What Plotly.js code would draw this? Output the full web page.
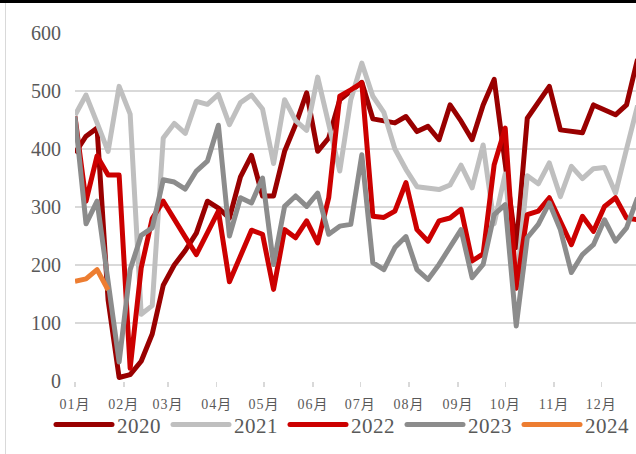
<!DOCTYPE html>
<html><head><meta charset="utf-8">
<script src="https://cdn.plot.ly/plotly-3.0.1.min.js"></script>
<style>
html,body{margin:0;padding:0;background:#fff;}
#wrap{position:relative;width:636px;height:454px;overflow:hidden;}
#chart{position:absolute;left:0;top:0;width:636px;height:454px;}
#topbar{position:absolute;left:0;top:0;width:636px;height:3px;background:#000;z-index:5;}
#leftrule{position:absolute;left:5px;top:3px;width:1px;height:451px;background:#d9d9d9;z-index:5;}
.xtick text{letter-spacing:1px;}
.legendtext{letter-spacing:0.5px;}
.legendlines path{stroke-linecap:round;}
.scatterlayer .js-line{stroke-linejoin:round;}
</style></head>
<body><div id="wrap"><div id="chart"></div><div id="topbar"></div><div id="leftrule"></div></div>
<script>
// day-of-year offset of each weekly observation
const weekDays = [0,7,14,21,28,35,42,49,56,63,70,77,84,91,98,105,112,119,126,133,140,147,154,161,168,175,182,189,196,203,210,217,224,231,238,245,252,259,266,273,280,287,294,301,308,315,322,329,336,343,350,357];
const monthStartDays = [0,31,59,90,120,151,181,212,243,273,304,334];
const monthLabels = ['01月','02月','03月','04月','05月','06月','07月','08月','09月','10月','11月','12月'];
const yTicks = [0,100,200,300,400,500,600];

const seriesNames = ['2020','2021','2022','2023','2024'];
const values2020 = [393,422,436,140,6,11,34,81,165,200,225,255,310,298,281,352,389,319,319,396,442,497,396,419,485,500,515,452,448,445,456,430,439,416,476,448,416,476,520,380,230,453,482,508,433,430,428,476,468,459,476,555];
const values2021 = [458,493,445,396,508,460,115,130,419,444,427,482,477,494,442,480,493,469,375,485,449,432,524,440,362,485,548,491,463,400,365,335,332,330,338,372,333,407,271,357,160,354,340,376,318,370,349,366,368,324,400,475];
const values2022 = [456,310,388,355,355,22,195,280,310,277,248,218,255,293,171,216,260,253,158,261,247,276,238,316,491,502,514,284,282,293,342,261,241,276,281,296,207,219,373,436,160,287,293,316,276,235,284,258,301,316,281,278];
const values2023 = [456,271,310,170,33,192,251,264,347,343,331,362,379,441,250,316,307,350,201,301,319,301,324,253,267,270,390,204,192,230,249,192,175,201,230,261,178,201,287,304,95,247,270,307,261,187,218,235,278,241,264,316];
const values2024 = [172,176,192,157];

const seriesValues = [values2020, values2021, values2022, values2023, values2024];
const seriesColors = ['#990000','#bfbfbf','#cc0000','#8c8c8c','#ed7d31'];

const traces = seriesNames.map((name, k) => ({
  type: 'scatter', mode: 'lines', name: name,
  x: weekDays.slice(0, seriesValues[k].length),
  y: seriesValues[k],
  line: {color: seriesColors[k], width: 5, shape: 'linear'},
  hoverinfo: 'skip'
}));

const layout = {
  width: 636, height: 454,
  margin: {l: 75, r: 0, t: 33, b: 73, pad: 0},
  paper_bgcolor: '#ffffff', plot_bgcolor: '#ffffff',
  font: {family: '"Liberation Serif", "Noto Sans CJK SC", serif', color: '#595959'},
  showlegend: true,
  legend: {
    orientation: 'h', x: -0.02, xanchor: 'left', y: -0.126, yanchor: 'middle',
    entrywidth: 46, entrywidthmode: 'pixels', itemwidth: 56,
    font: {size: 21, color: '#595959', family: '"Liberation Serif", serif'},
    bgcolor: 'rgba(0,0,0,0)', traceorder: 'normal', tracegroupgap: 0
  },
  xaxis: {
    type: 'linear', range: [0, 356], fixedrange: true,
    tickmode: 'array', tickvals: monthStartDays, ticktext: monthLabels,
    showgrid: false, zeroline: false,
    showline: false, ticks: 'outside', ticklen: 5, tickwidth: 1.3, tickcolor: '#d9d9d9',
    ticklabelstandoff: 5,
    tickfont: {size: 14, color: '#595959', family: '"Liberation Serif", "Noto Sans CJK SC", serif'}
  },
  yaxis: {
    range: [0, 600], fixedrange: true,
    tickmode: 'array', tickvals: yTicks,
    showgrid: true, gridcolor: '#d9d9d9', gridwidth: 1.4,
    zeroline: false, showline: false, ticks: '',
    ticklabelstandoff: 13,
    tickfont: {size: 20, color: '#595959', family: '"Liberation Serif", serif'}
  }
};

Plotly.newPlot('chart', traces, layout, {staticPlot: true, displayModeBar: false});
</script>
</body></html>
